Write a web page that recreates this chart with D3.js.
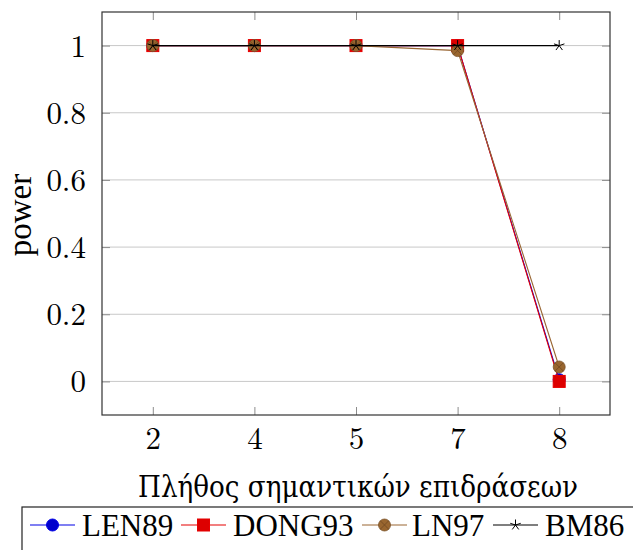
<!DOCTYPE html>
<html>
<head>
<meta charset="utf-8">
<script src="https://cdn.jsdelivr.net/npm/d3@7"></script>
<style>
  body { margin: 0; background: #fff; }
  text { font-family: "Liberation Serif", serif; }
</style>
</head>
<body>
<div id="chart"></div>
<script>
// data
const categories = ["2", "4", "5", "7", "8"];
const yTicks = [0, 0.2, 0.4, 0.6, 0.8, 1];
const seriesNames = ["LEN89", "DONG93", "LN97", "BM86"];
const len89 = [1, 1, 1, 1, 0.005];
const dong93 = [1, 1, 1, 1, 0];
const ln97 = [1, 1, 1, 0.985, 0.043];
const bm86 = [1, 1, 1, 1, 1];

const series = [
  {name: seriesNames[0], values: len89, color: "#0000e6", marker: "circle", fill: "#0000cc"},
  {name: seriesNames[1], values: dong93, color: "#e60000", marker: "square", fill: "#dd0000"},
  {name: seriesNames[2], values: ln97, color: "#996633", marker: "otimes", fill: "#99662f"},
  {name: seriesNames[3], values: bm86, color: "#000", marker: "star", fill: "#000"}
];

const W = 633, H = 550;
const margin = {left: 102, right: 23, top: 12, bottom: 135};
const iw = W - margin.left - margin.right;
const ih = H - margin.top - margin.bottom;
const tickFont = "'Latin Modern Roman', 'Liberation Serif', serif";

const svg = d3.select("#chart").append("svg")
  .attr("width", W).attr("height", H);

const g = svg.append("g")
  .attr("transform", "translate(" + margin.left + "," + margin.top + ")");

const x = d3.scalePoint().domain(categories).range([0, iw]).padding(0.5);
const y = d3.scaleLinear().domain([-0.1, 1.1]).range([ih, 0]);

// grid
g.selectAll(".grid").data(yTicks).join("line")
  .attr("x1", 0).attr("x2", iw)
  .attr("y1", d => y(d)).attr("y2", d => y(d))
  .attr("stroke", "#c8c8c8").attr("stroke-width", 1);

// axes
const xb = g.append("g").attr("transform", "translate(0," + ih + ")")
  .call(d3.axisBottom(x).tickSize(-8));
const xt = g.append("g")
  .call(d3.axisTop(x).tickSize(-8).tickFormat(""));
const yl = g.append("g")
  .call(d3.axisLeft(y).tickValues(yTicks).tickSize(-8).tickPadding(16)
    .tickFormat(d => d === 0 || d === 1 ? d3.format("d")(d) : d3.format(".1f")(d)));
const yr = g.append("g").attr("transform", "translate(" + iw + ",0)")
  .call(d3.axisRight(y).tickValues(yTicks).tickSize(-8).tickFormat(""));

[xb, xt, yl, yr].forEach(a => {
  a.select(".domain").remove();
  a.selectAll(".tick line").attr("stroke", "#8c8c8c");
  a.selectAll(".tick text").attr("fill", "#000").style("font-size", "31px")
    .style("font-family", tickFont);
});
xb.selectAll(".tick text").attr("y", 34).attr("dy", 0);
yl.selectAll(".tick text").attr("dy", "0.34em");

// frame
g.append("rect").attr("width", iw).attr("height", ih)
  .attr("fill", "none").attr("stroke", "#333").attr("stroke-width", 1.2);

// axis labels
svg.append("text")
  .attr("x", margin.left + iw / 2 + 2).attr("y", 497)
  .attr("text-anchor", "middle")
  .style("font-size", "29px").style("font-family", "'DejaVu Serif', serif")
  .attr("textLength", 440).attr("lengthAdjust", "spacingAndGlyphs")
  .text("Πλήθος σημαντικών επιδράσεων");
svg.append("text")
  .attr("transform", "translate(31,215) rotate(-90)")
  .attr("text-anchor", "middle").style("font-size", "33px")
  .text("power");

function drawMarker(sel, s, cx, cy) {
  if (s.marker === "circle") {
    sel.append("circle").attr("cx", cx).attr("cy", cy).attr("r", 6)
      .attr("fill", s.fill).attr("stroke", s.color);
  } else if (s.marker === "square") {
    sel.append("rect").attr("x", cx - 6).attr("y", cy - 6).attr("width", 12).attr("height", 12)
      .attr("fill", s.fill).attr("stroke", s.color);
  } else if (s.marker === "otimes") {
    sel.append("circle").attr("cx", cx).attr("cy", cy).attr("r", 6)
      .attr("fill", s.fill).attr("stroke", "#7a5228").attr("stroke-width", 0.8);
    const d = 6 * Math.SQRT1_2;
    sel.append("path")
      .attr("d", `M${cx - d},${cy - d}L${cx + d},${cy + d}M${cx - d},${cy + d}L${cx + d},${cy - d}`)
      .attr("stroke", "#6b4520").attr("stroke-width", 0.7);
  } else {
    // five-pointed asterisk like the pgfplots "star" mark
    let p = "";
    for (let i = 0; i < 5; i++) {
      const a = Math.PI / 2 + i * 2 * Math.PI / 5;
      p += `M${cx},${cy}L${cx + 5.5 * Math.cos(a)},${cy - 5.5 * Math.sin(a)}`;
    }
    sel.append("path").attr("d", p).attr("stroke", s.color).attr("stroke-width", 1).attr("fill", "none");
  }
}

const line = d3.line().x((d, i) => x(categories[i])).y(d => y(d));

series.forEach(s => {
  const sg = g.append("g");
  sg.append("path").datum(s.values).attr("d", line)
    .attr("fill", "none").attr("stroke", s.color).attr("stroke-width", 1.1);
  s.values.forEach((v, i) => drawMarker(sg, s, x(categories[i]), y(v)));
});

// legend
const lg = svg.append("g");
lg.append("rect").attr("x", 22).attr("y", 507).attr("width", 620).attr("height", 50)
  .attr("fill", "#fff").attr("stroke", "#222").attr("stroke-width", 1.2);
const legendX = [30, 181, 362, 493];
const legendText = [82, 233, 412, 545];
series.forEach((s, i) => {
  const lx = legendX[i], ly = 525;
  lg.append("line").attr("x1", lx).attr("x2", lx + 45).attr("y1", ly).attr("y2", ly)
    .attr("stroke", s.color).attr("stroke-width", 1.1);
  drawMarker(lg, s, lx + 22.5, ly);
  lg.append("text").attr("x", legendText[i]).attr("y", ly + 11).style("font-size", "31px")
    .text(s.name);
});
</script>
</body>
</html>
